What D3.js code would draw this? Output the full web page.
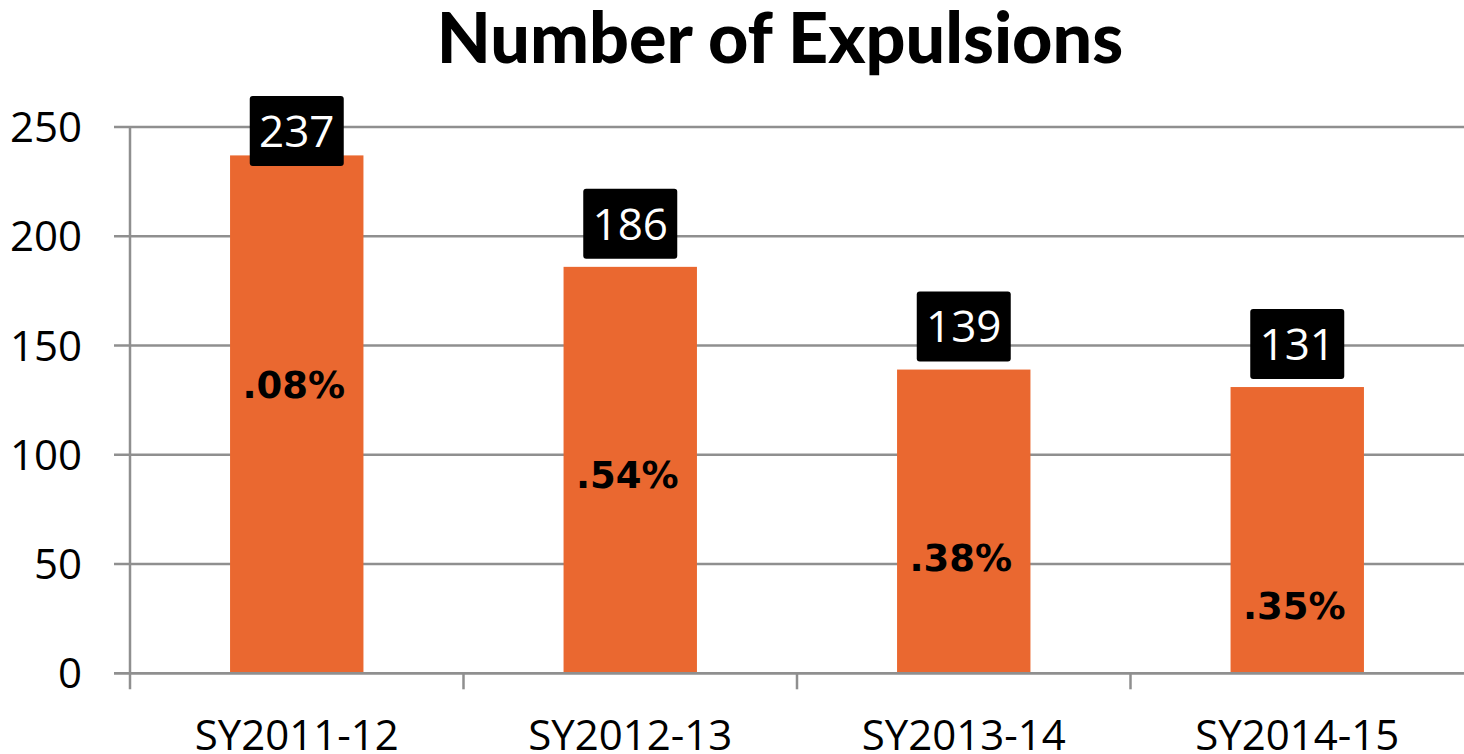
<!DOCTYPE html>
<html>
<head>
<meta charset="utf-8">
<script src="https://cdn.jsdelivr.net/npm/d3@7"></script>
<style>
  html, body { margin: 0; padding: 0; background: #fff; }
  svg { display: block; }
</style>
</head>
<body>
<div id="chart"></div>
<script>
/* Number of Expulsions — bar chart with boxed count labels */

const categories = ['SY2011-12', 'SY2012-13', 'SY2013-14', 'SY2014-15'];
const expulsions = [237, 186, 139, 131];
const pctLabels  = ['.08%', '.54%', '.38%', '.35%'];
const pctAnchor  = [132, 91, 53, 31];   // where the % text sits, in axis units
const yTicks     = [0, 50, 100, 150, 200, 250];

const W = 1464, H = 754;
const BAR_CLR = '#EA6830';
const GRID_CLR = '#8f8f8f';
const SANS = "'Open Sans', 'Noto Sans', sans-serif";

const svg = d3.select('#chart').append('svg')
  .attr('width', W).attr('height', H);

/* ── Scales ── */
const x = d3.scaleBand()
  .domain(categories)
  .range([130, W])
  .paddingInner(0.6)
  .paddingOuter(0.3);

const y = d3.scaleLinear()
  .domain([0, 250])
  .range([673.3, 127]);

/* ── Title ── */
svg.append('text')
  .attr('x', 780).attr('y', 63)
  .attr('text-anchor', 'middle')
  .attr('font-family', "Lato, 'Noto Sans', sans-serif")
  .attr('font-weight', 900)
  .attr('font-size', '70px')
  .attr('fill', '#000')
  .text('Number of Expulsions');

/* ── Gridlines + y labels ── */
const grid = svg.append('g');
grid.selectAll('line')
  .data(yTicks)
  .join('line')
  .attr('x1', 114).attr('x2', W)
  .attr('y1', d => y(d)).attr('y2', d => y(d))
  .attr('stroke', GRID_CLR)
  .attr('stroke-width', 2.5);

grid.selectAll('text')
  .data(yTicks)
  .join('text')
  .attr('x', 82)
  .attr('y', d => y(d))
  .attr('dy', '0.36em')
  .attr('text-anchor', 'end')
  .attr('font-family', SANS)
  .attr('font-size', '42px')
  .attr('fill', '#000')
  .text(d => d);

/* ── Bars ── */
svg.append('g').selectAll('rect')
  .data(categories)
  .join('rect')
  .attr('x', d => x(d))
  .attr('y', (d, i) => y(expulsions[i]))
  .attr('width', x.bandwidth())
  .attr('height', (d, i) => y(0) - y(expulsions[i]))
  .attr('fill', BAR_CLR);

/* ── Axis lines (drawn over bars) ── */
const ax = svg.append('g').attr('stroke', GRID_CLR).attr('stroke-width', 2.5);
ax.append('line')
  .attr('x1', 114).attr('x2', W)
  .attr('y1', y(0)).attr('y2', y(0));
ax.append('line')
  .attr('x1', 130).attr('x2', 130)
  .attr('y1', y(250) - 1).attr('y2', y(0) + 16);

// category boundary ticks below the baseline
const gap = (x.step() - x.bandwidth()) / 2;
ax.selectAll('line.tick')
  .data(categories.slice(1))
  .join('line')
  .attr('class', 'tick')
  .attr('x1', d => x(d) - gap)
  .attr('x2', d => x(d) - gap)
  .attr('y1', y(0)).attr('y2', y(0) + 16);

/* ── Category labels ── */
svg.append('g').selectAll('text')
  .data(categories)
  .join('text')
  .attr('x', d => x(d) + x.bandwidth() / 2)
  .attr('y', 750)
  .attr('text-anchor', 'middle')
  .attr('font-family', SANS)
  .attr('font-size', '42px')
  .attr('fill', '#000')
  .text(d => d);

/* ── Percent labels inside bars ── */
svg.append('g').selectAll('text')
  .data(pctLabels)
  .join('text')
  .attr('x', (d, i) => x(categories[i]) + x.bandwidth() / 2 - 3)
  .attr('y', (d, i) => y(pctAnchor[i]))
  .attr('dy', '0.36em')
  .attr('text-anchor', 'middle')
  .attr('font-family', "'DejaVu Sans', sans-serif")
  .attr('font-weight', 'bold')
  .attr('font-size', '37px')
  .attr('fill', '#000')
  .text(d => d);

/* ── Boxed count labels ── */
const BOX_W = 94, BOX_H = 70, BOX_GAP = 8, BOX_MIN_TOP = 96;
const boxes = svg.append('g').selectAll('g')
  .data(categories)
  .join('g')
  .attr('transform', (d, i) => {
    const cx = x(d) + x.bandwidth() / 2;
    const top = Math.max(y(expulsions[i]) - BOX_GAP - BOX_H, BOX_MIN_TOP);
    return `translate(${cx},${top})`;
  });

boxes.append('rect')
  .attr('x', -BOX_W / 2).attr('y', 0)
  .attr('width', BOX_W).attr('height', BOX_H)
  .attr('rx', 3)
  .attr('fill', '#000');

boxes.append('text')
  .attr('x', 0).attr('y', BOX_H / 2)
  .attr('dy', '0.36em')
  .attr('text-anchor', 'middle')
  .attr('font-family', SANS)
  .attr('font-size', '44px')
  .attr('fill', '#fff')
  .text((d, i) => expulsions[i]);
</script>
</body>
</html>
